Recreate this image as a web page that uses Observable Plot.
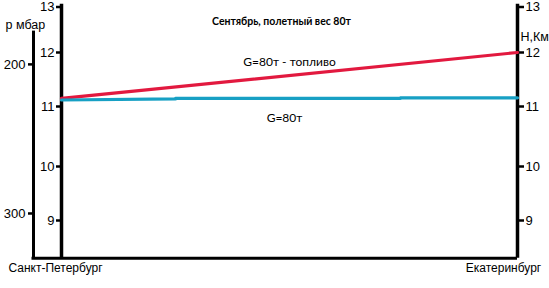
<!DOCTYPE html>
<html>
<head>
<meta charset="utf-8">
<script src="https://cdn.jsdelivr.net/npm/d3@7"></script>
<script src="https://cdn.jsdelivr.net/npm/@observablehq/plot@0.6"></script>
<style>
  html, body { margin: 0; padding: 0; background: #fff; }
</style>
</head>
<body>
<div id="chart"></div>
<script>
// ---- data ----
const title = "Сентябрь, полетный вес 80т";
const cities = ["Санкт-Петербург", "Екатеринбург"];
const cityPos = [0, 1];                 // fraction of route
const altTicks = [9, 10, 11, 12, 13];   // H, km
const pressureLabels = ["200", "300"];  // p, mbar
const pressureAlt = [11.78, 9.13];      // altitude of the pressure ticks, km
const altMin = 8.3, altMax = 13.06, pressAxisTop = 12.47;

const fuelRoute = [0, 1];
const fuelAlt = [11.15, 12.0];          // G=80т - топливо
const baseRoute = [0, 0.25, 0.25, 0.743, 0.743, 1];
const baseAlt = [11.12, 11.14, 11.15, 11.15, 11.16, 11.16]; // G=80т

const fuel = fuelRoute.map((r, i) => ({r, h: fuelAlt[i]}));
const base = baseRoute.map((r, i) => ({r, h: baseAlt[i]}));
const pressMap = new Map(pressureAlt.map((a, i) => [a, pressureLabels[i]]));

const font = "Liberation Sans, Arial, sans-serif";
const calib = "Lato, 'Open Sans', sans-serif";

const chart = Plot.plot({
  width: 549,
  height: 288,
  marginLeft: 61,
  marginRight: 32,
  marginTop: 0,
  marginBottom: 30,
  style: {fontFamily: font, background: "#fff", overflow: "visible"},
  x: {domain: [0, 1], axis: null},
  y: {type: "linear", domain: [9, 10, 11, 12, 13], range: [220, 166, 106, 52, 6.5], axis: null},
  marks: [
    // altitude axes lines
    Plot.ruleX(cityPos, {y1: altMin, y2: altMax, stroke: "#000", strokeWidth: 3.5}),
    // pressure axis line
    Plot.ruleX([0], {y1: altMin, y2: pressAxisTop, dx: -28, stroke: "#000", strokeWidth: 3}),
    // bottom line
    Plot.ruleY([altMin], {x1: 0, x2: 1, insetLeft: -29.5, stroke: "#000", strokeWidth: 3}),
    // altitude ticks left
    Plot.axisY({anchor: "left", ticks: altTicks, tickSize: 5, tickPadding: 2, fontSize: 13,
      stroke: "#000", strokeWidth: 2.5, fill: "#000", label: null, tickFormat: d => d}),
    // altitude ticks right
    Plot.axisY({anchor: "right", ticks: altTicks, tickSize: 6, tickPadding: 2, fontSize: 13,
      stroke: "#000", strokeWidth: 2.5, fill: "#000", label: null, tickFormat: d => d}),
    // pressure ticks
    Plot.axisY({anchor: "left", ticks: pressureAlt, dx: -28, tickSize: 5, tickPadding: 3, fontSize: 13,
      stroke: "#000", strokeWidth: 2.5, fill: "#000", label: null, tickFormat: d => pressMap.get(d)}),
    // series
    Plot.line(fuel, {x: "r", y: "h", stroke: "#e2193f", strokeWidth: 3.2}),
    Plot.line(base, {x: "r", y: "h", stroke: "#17a0c4", strokeWidth: 3.2, curve: "linear"}),
    // texts
    Plot.text([title], {frameAnchor: "top", dx: -8, dy: 17, fontFamily: calib, fontWeight: "bold", fontSize: 10.5, fill: "#000"}),
    Plot.text(["G=80т - топливо"], {frameAnchor: "top", dx: 0, dy: 57, fontFamily: calib, fontSize: 12, fill: "#000"}),
    Plot.text(["G=80т"], {frameAnchor: "top", dx: -5, dy: 113, fontFamily: calib, fontSize: 12, fill: "#000"}),
    Plot.text(["р мбар"], {frameAnchor: "top-left", dx: -56, dy: 20, textAnchor: "start", fontSize: 12.5, fill: "#000"}),
    Plot.text(["Н,Км"], {frameAnchor: "top-right", dx: 3, dy: 32, textAnchor: "start", fontSize: 12.5, fill: "#000"}),
    Plot.text([cities[0]], {x: cityPos[0], frameAnchor: "bottom", dx: -6, dy: 13, fontSize: 12, fill: "#000"}),
    Plot.text([cities[1]], {x: cityPos[1], frameAnchor: "bottom", dx: -14, dy: 13, fontSize: 12, fill: "#000"})
  ]
});
document.getElementById("chart").appendChild(chart);
</script>
</body>
</html>
